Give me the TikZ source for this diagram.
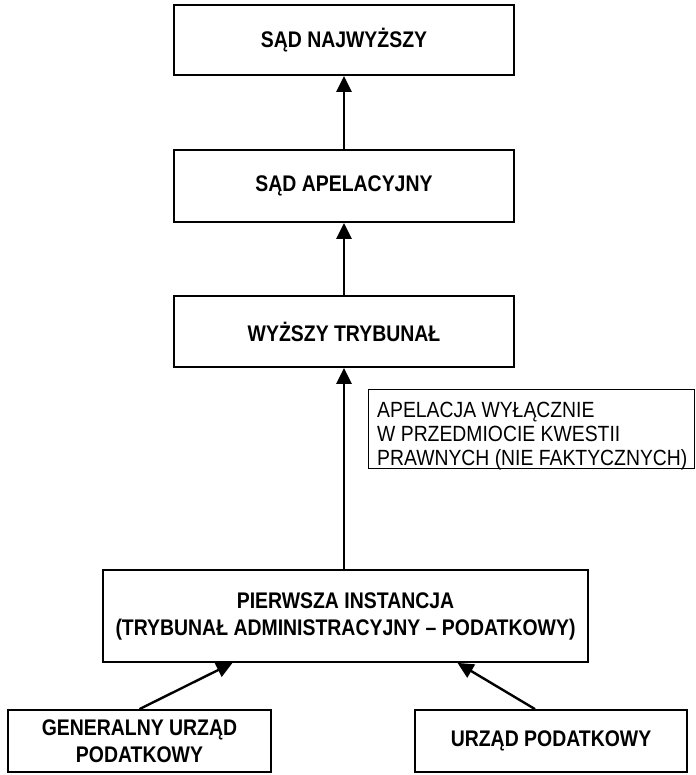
\documentclass[tikz,border=0pt]{standalone}
\usepackage{fontspec}
\setmainfont{Liberation Sans}
\newfontfamily\narrowsans[FakeStretch=0.86]{Liberation Sans}
\newfontfamily\narrownote[FakeStretch=0.88]{Liberation Sans}
\usetikzlibrary{arrows.meta}
\begin{document}
\begin{tikzpicture}[x=1pt,y=-1pt,
  box/.style={draw, line width=1.8pt, rectangle, inner sep=0pt, align=center,
    font=\narrowsans\fontsize{22.6pt}{27pt}\selectfont\bfseries},
  notebox/.style={draw, line width=1.4pt, rectangle, inner sep=0pt},
  notetext/.style={inner sep=0pt, align=left,
    font=\narrownote\fontsize{22pt}{24pt}\selectfont},
  arr/.style={line width=2.4pt, -{Triangle[length=16pt,width=15pt]}}]
\useasboundingbox (0,0) rectangle (695,775);
\node[box, minimum width=340pt, minimum height=70pt] (sn) at (344,40) {SĄD NAJWYŻSZY};
\node[box, minimum width=340pt, minimum height=72pt] (sa) at (344,186) {SĄD APELACYJNY};
\node[box, minimum width=340pt, minimum height=71pt] (wt) at (344,331.5) {WYŻSZY TRYBUNAŁ};
\node[notebox, minimum width=326pt, minimum height=79pt, anchor=north west] (nt) at (368,389) {};
\node[notetext, anchor=north west] (ntt) at ([xshift=9pt,yshift=-13pt]nt.north west)
  {APELACJA WYŁĄCZNIE\\W PRZEDMIOCIE KWESTII\\PRAWNYCH (NIE FAKTYCZNYCH)};
\node[box, minimum width=485pt, minimum height=92pt] (pi) at (345.5,616) {PIERWSZA INSTANCJA\\(TRYBUNAŁ ADMINISTRACYJNY – PODATKOWY)};
\node[box, minimum width=263pt, minimum height=62pt] (gu) at (139.5,741) {GENERALNY URZĄD\\PODATKOWY};
\node[box, minimum width=272pt, minimum height=62pt] (up) at (551,741) {URZĄD PODATKOWY};
\draw[arr] (sa.north) -- (sn.south);
\draw[arr] (wt.north) -- (sa.south);
\draw[arr] ([xshift=-1.5pt]pi.north) -- (wt.south);
\draw[arr] (gu.north) -- ([xshift=-113pt]pi.south);
\draw[arr] ([xshift=-16pt]up.north) -- ([xshift=112pt]pi.south);
\end{tikzpicture}
\end{document}
